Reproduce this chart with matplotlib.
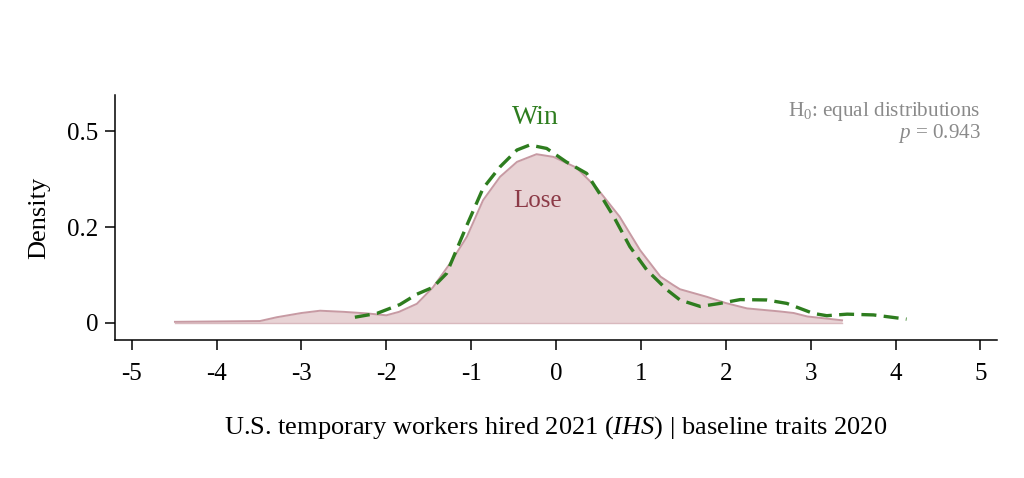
import numpy as np
import matplotlib
matplotlib.use("Agg")
import matplotlib.pyplot as plt

plt.rcParams['font.family'] = ['Liberation Serif', 'DejaVu Serif']
plt.rcParams['mathtext.fontset'] = 'custom'
plt.rcParams['mathtext.rm'] = 'Liberation Serif'
plt.rcParams['mathtext.it'] = 'Liberation Serif:italic'

# density estimates
lose_x = [-4.49, -4.0, -3.49, -3.29, -3.0, -2.78, -2.5, -2.23, -2.0, -1.85, -1.64,
          -1.45, -1.25, -1.05, -0.86, -0.66, -0.46, -0.23, -0.03, 0.24, 0.48, 0.75,
          0.99, 1.23, 1.38, 1.46, 1.78, 2.0, 2.25, 2.64, 2.80, 2.96, 3.37]
lose_y = [0.003, 0.004, 0.005, 0.015, 0.026, 0.032, 0.029, 0.025, 0.020, 0.029, 0.050,
          0.093, 0.155, 0.225, 0.320, 0.381, 0.420, 0.440, 0.433, 0.405, 0.352, 0.277,
          0.190, 0.121, 0.099, 0.088, 0.068, 0.052, 0.038, 0.030, 0.026, 0.017, 0.007]

win_x = [-2.37, -2.11, -1.84, -1.64, -1.45, -1.29, -1.05, -0.86, -0.66, -0.46, -0.31,
         -0.11, 0.12, 0.36, 0.52, 0.68, 0.87, 1.07, 1.31, 1.46, 1.70, 1.93, 2.17,
         2.48, 2.72, 3.03, 3.19, 3.43, 3.74, 4.13]
win_y = [0.015, 0.025, 0.048, 0.075, 0.093, 0.129, 0.255, 0.351, 0.407, 0.451, 0.464,
         0.455, 0.420, 0.390, 0.335, 0.277, 0.199, 0.138, 0.086, 0.060, 0.043, 0.051,
         0.061, 0.060, 0.051, 0.025, 0.019, 0.023, 0.021, 0.010]

xticks = [-5, -4, -3, -2, -1, 0, 1, 2, 3, 4, 5]
yticks = [0, 0.25, 0.5]
ytick_labels = ["0", "0.2", "0.5"]

fig = plt.figure(figsize=(10.24, 4.78), dpi=100)
ax = fig.add_axes([0.112, 0.289, 0.862, 0.512])

ax.fill_between(lose_x, lose_y, 0, color="#e8d3d5", lw=0)
ax.plot(lose_x, lose_y, color="#c79aa3", lw=1.4)
ax.plot(lose_x, [0] * len(lose_x), color="#d9b9be", lw=1.0)
ax.plot(win_x, win_y, color="#2e7d1f", lw=2.4, dashes=(4.5, 2.2))

ax.text(-0.24, 0.536, "Win", color="#2e7d1f", fontsize=20, ha="center", va="center")
ax.text(-0.22, 0.318, "Lose", color="#8c3a47", fontsize=18, ha="center", va="center")
ax.text(5.0, 0.523, "H$_0$: equal distributions\n$p$ = 0.943", color="#8a8a8a",
        fontsize=15.2, ha="right", va="center", multialignment="right", linespacing=0.95)

ax.set_xlim(-5.2, 5.2)
ax.set_ylim(-0.044, 0.594)
ax.set_xticks(xticks)
ax.set_xticklabels([str(t) for t in xticks])
ax.set_yticks(yticks)
ax.set_yticklabels(ytick_labels)
ax.tick_params(direction="out", length=7, width=1.1, labelsize=18, pad=5)
ax.tick_params(axis="x", pad=10)
for s in ["top", "right"]:
    ax.spines[s].set_visible(False)
for s in ["left", "bottom"]:
    ax.spines[s].set_linewidth(1.1)

ax.set_ylabel("Density", fontsize=19, labelpad=12)
ax.set_xlabel(r"U.S. temporary workers hired 2021 ($IHS$) | baseline traits 2020",
              fontsize=19, labelpad=21)

fig.savefig("out.png", dpi=100)
